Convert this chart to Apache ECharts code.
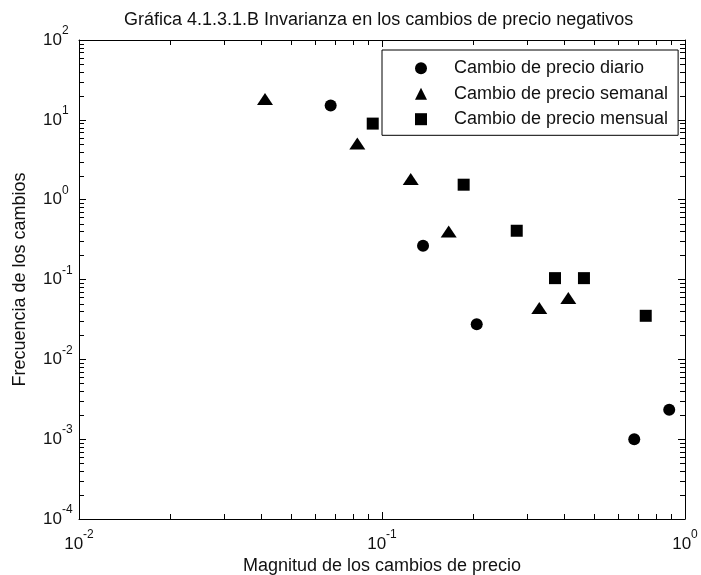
<!DOCTYPE html>
<html>
<head>
<meta charset="utf-8">
<script src="https://cdn.jsdelivr.net/npm/echarts@6/dist/echarts.min.js"></script>
<style>
  html, body { margin: 0; padding: 0; background: #ffffff; }
  #chart { width: 701px; height: 575px; }
</style>
</head>
<body>
<div id="chart"></div>
<script>
// Magnitude of price changes (x) against frequency (y), one list per horizon
const diarioX  = [0.0677, 0.1366, 0.2054, 0.680, 0.887];
const diarioY  = [15.1, 0.265, 0.0276, 0.0010, 0.00233];
const semanalX = [0.0411, 0.0829, 0.1244, 0.166, 0.3304, 0.412];
const semanalY = [18.3, 5.04, 1.82, 0.40, 0.0438, 0.0585];
const mensualX = [0.0932, 0.186, 0.2784, 0.3724, 0.464, 0.742];
const mensualY = [8.97, 1.54, 0.408, 0.104, 0.104, 0.0351];

const seriesNames = [
  'Cambio de precio diario',
  'Cambio de precio semanal',
  'Cambio de precio mensual'
];

// Log-axis limits and the minor tick values between decades
const xRange = [0.01, 1];
const yRange = [0.0001, 100];
const xMinorTicks = [0.02, 0.03, 0.04, 0.05, 0.06, 0.07, 0.08, 0.09,
                     0.2, 0.3, 0.4, 0.5, 0.6, 0.7, 0.8, 0.9];
const yMinorTicks = [0.0002, 0.0003, 0.0004, 0.0005, 0.0006, 0.0007, 0.0008, 0.0009,
                     0.002, 0.003, 0.004, 0.005, 0.006, 0.007, 0.008, 0.009,
                     0.02, 0.03, 0.04, 0.05, 0.06, 0.07, 0.08, 0.09,
                     0.2, 0.3, 0.4, 0.5, 0.6, 0.7, 0.8, 0.9,
                     2, 3, 4, 5, 6, 7, 8, 9,
                     20, 30, 40, 50, 60, 70, 80, 90];

const FONT = "'Liberation Sans', Arial, sans-serif";
const AXIS_COLOR = '#000000';
const TEXT_COLOR = '#111111';
const MAJOR_LEN = 7;
const MINOR_LEN = 5;

function zip(xs, ys) { return xs.map((x, i) => [x, ys[i]]); }

// "10" with a raised exponent
function powerLabel(value) {
  const e = Math.round(Math.log10(value));
  return '{b|10}{e|' + e + '}';
}
const powerRich = {
  b: { fontFamily: FONT, fontSize: 17, color: TEXT_COLOR, lineHeight: 30, verticalAlign: 'middle' },
  e: { fontFamily: FONT, fontSize: 12, color: TEXT_COLOR, lineHeight: 12, verticalAlign: 'top' }
};

function logAxis(range, position, split, showLabels, extra) {
  return Object.assign({
    type: 'log',
    logBase: 10,
    min: range[0],
    max: range[1],
    splitNumber: split,
    position: position,
    axisLine: { show: true, onZero: false, lineStyle: { color: AXIS_COLOR, width: 1 } },
    axisTick: { show: true, inside: true, length: MAJOR_LEN, lineStyle: { color: AXIS_COLOR, width: 1 } },
    splitLine: { show: false },
    minorTick: { show: false },
    axisLabel: { show: showLabels }
  }, extra || {});
}

const markerStyle = { color: '#000000', opacity: 1 };

const chart = echarts.init(document.getElementById('chart'), null, { renderer: 'canvas' });

chart.setOption({
  animation: false,
  backgroundColor: '#ffffff',
  textStyle: { fontFamily: FONT },
  title: {
    text: 'Gráfica 4.1.3.1.B Invarianza en los cambios de precio negativos',
    left: 124,
    top: 11,
    padding: 0,
    textStyle: { fontFamily: FONT, fontSize: 18, fontWeight: 'normal', color: TEXT_COLOR, lineHeight: 18 }
  },
  grid: { left: 79, right: 16, top: 40, bottom: 56, containLabel: false, outerBoundsMode: 'none' },
  legend: {
    orient: 'vertical',
    left: 382,
    top: 50,
    padding: [9.2, 10, 7.1, 33],
    itemGap: 7.5,
    itemWidth: 12,
    itemHeight: 12,
    borderColor: '#000000',
    borderWidth: 1,
    backgroundColor: '#ffffff',
    selectedMode: false,
    data: [
      { name: seriesNames[0], icon: 'circle' },
      { name: seriesNames[1], icon: 'triangle' },
      { name: seriesNames[2], icon: 'rect' }
    ],
    itemStyle: { opacity: 1 },
    formatter: name => '{t|' + name + '}',
    textStyle: {
      rich: { t: { fontFamily: FONT, fontSize: 18, color: TEXT_COLOR, lineHeight: 12, padding: [0, 0, 0, 22] } }
    }
  },
  xAxis: [
    logAxis(xRange, 'bottom', 2, true, {
      name: 'Magnitud de los cambios de precio',
      nameLocation: 'middle',
      nameGap: 38,
      nameTextStyle: { fontFamily: FONT, fontSize: 18, color: TEXT_COLOR, lineHeight: 18 },
      axisLabel: { show: true, margin: 10, formatter: powerLabel, rich: powerRich,
                   showMinLabel: true, showMaxLabel: true, hideOverlap: false }
    }),
    logAxis(xRange, 'top', 2, false)
  ],
  yAxis: [
    logAxis(yRange, 'left', 6, true, {
      name: 'Frecuencia de los cambios',
      nameLocation: 'middle',
      nameGap: 50,
      nameTextStyle: { fontFamily: FONT, fontSize: 18, color: TEXT_COLOR, lineHeight: 18 },
      axisLabel: { show: true, margin: 36, align: 'left', formatter: powerLabel, rich: powerRich,
                   showMinLabel: true, showMaxLabel: true, hideOverlap: false }
    }),
    logAxis(yRange, 'right', 6, false)
  ],
  series: [
    {
      name: seriesNames[0], type: 'scatter', symbol: 'circle', symbolSize: 12,
      itemStyle: markerStyle, data: zip(diarioX, diarioY), z: 5
    },
    {
      name: seriesNames[1], type: 'scatter', symbol: 'triangle', symbolSize: [16, 12],
      itemStyle: markerStyle, data: zip(semanalX, semanalY), z: 5
    },
    {
      name: seriesNames[2], type: 'scatter', symbol: 'rect', symbolSize: 12,
      itemStyle: markerStyle, data: zip(mensualX, mensualY), z: 5
    }
  ]
});

// Minor ticks on all four sides of the box, placed through the axes' log scales
function drawMinorTicks() {
  const finder = { xAxisIndex: 0, yAxisIndex: 0 };
  const corner0 = chart.convertToPixel(finder, [xRange[0], yRange[0]]);
  const corner1 = chart.convertToPixel(finder, [xRange[1], yRange[1]]);
  const left = corner0[0], bottom = corner0[1], right = corner1[0], top = corner1[1];
  const stroke = { stroke: AXIS_COLOR, lineWidth: 1 };
  const els = [];
  xMinorTicks.forEach(v => {
    const px = Math.round(chart.convertToPixel(finder, [v, yRange[0]])[0]) + 0.5;
    els.push({ type: 'line', z: 100, silent: true,
               shape: { x1: px, y1: bottom, x2: px, y2: bottom - MINOR_LEN }, style: stroke });
    els.push({ type: 'line', z: 100, silent: true,
               shape: { x1: px, y1: top, x2: px, y2: top + MINOR_LEN }, style: stroke });
  });
  yMinorTicks.forEach(v => {
    const py = Math.round(chart.convertToPixel(finder, [xRange[0], v])[1]) + 0.5;
    els.push({ type: 'line', z: 100, silent: true,
               shape: { x1: left, y1: py, x2: left + MINOR_LEN, y2: py }, style: stroke });
    els.push({ type: 'line', z: 100, silent: true,
               shape: { x1: right, y1: py, x2: right - MINOR_LEN, y2: py }, style: stroke });
  });
  chart.setOption({ graphic: els });
}
drawMinorTicks();
</script>
</body>
</html>
